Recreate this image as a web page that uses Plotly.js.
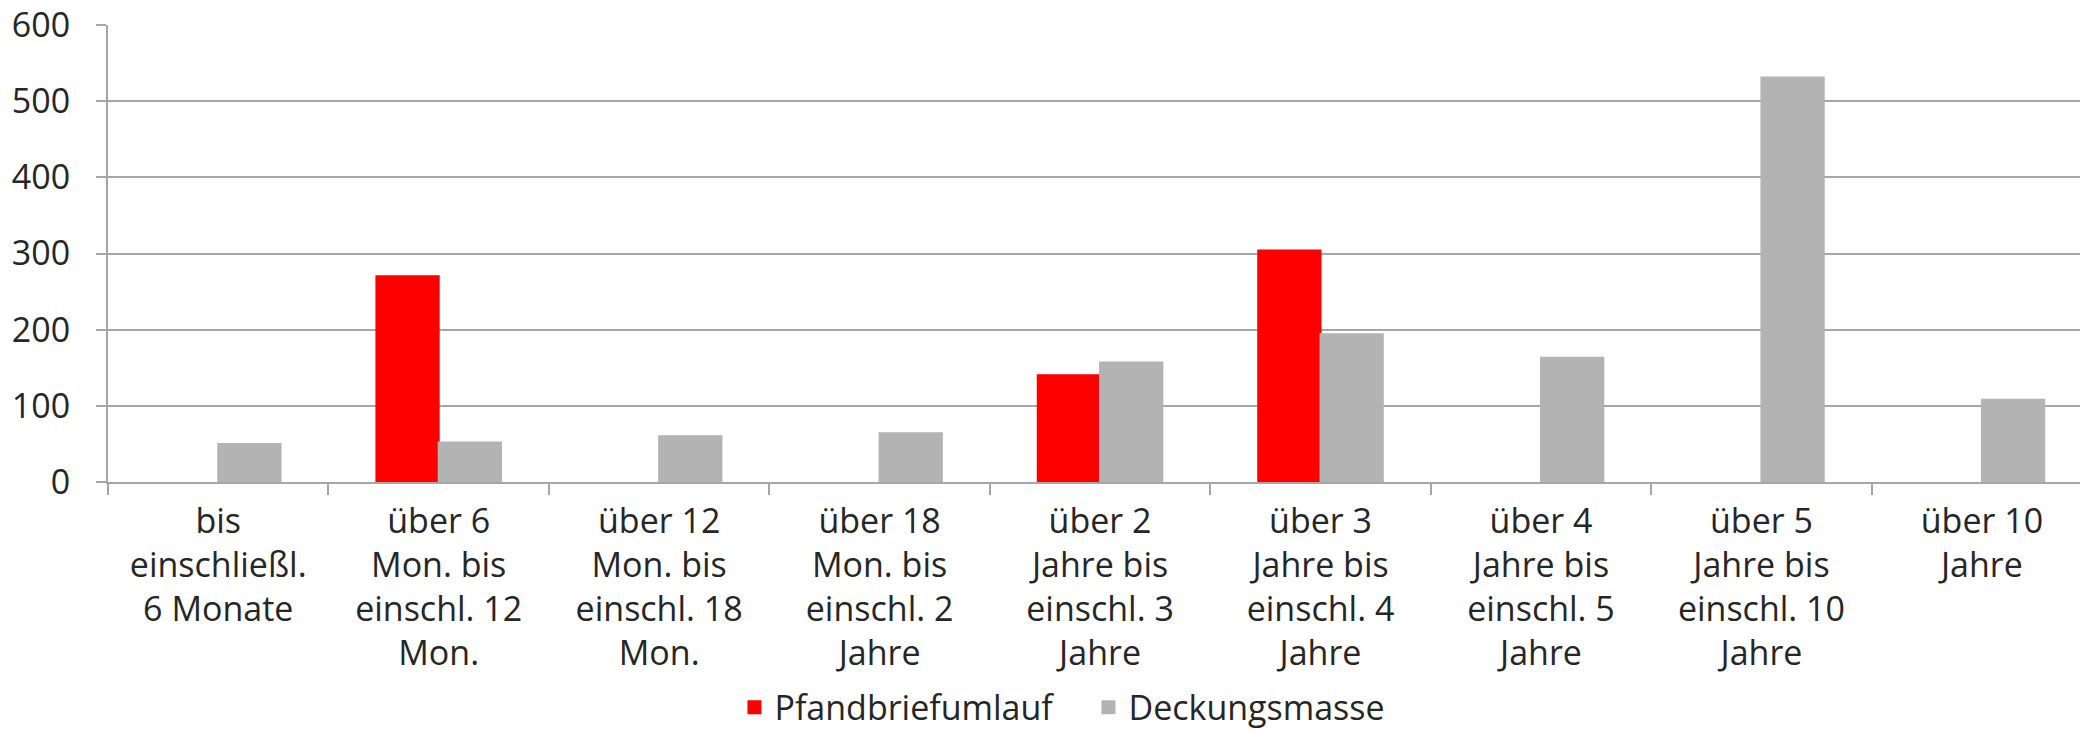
<!DOCTYPE html>
<html>
<head>
<meta charset="utf-8">
<script src="https://cdn.plot.ly/plotly-3.0.1.min.js"></script>
<style>
  html, body { margin: 0; padding: 0; background: #fff; }
  #chart { width: 2080px; height: 732px; }
</style>
</head>
<body>
<div id="chart"></div>
<script>
// Laufzeitbänder (tick labels, with line breaks as in the original)
const categories = [
  "bis<br>einschließl.<br>6 Monate",
  "über 6<br>Mon. bis<br>einschl. 12<br>Mon.",
  "über 12<br>Mon. bis<br>einschl. 18<br>Mon.",
  "über 18<br>Mon. bis<br>einschl. 2<br>Jahre",
  "über 2<br>Jahre bis<br>einschl. 3<br>Jahre",
  "über 3<br>Jahre bis<br>einschl. 4<br>Jahre",
  "über 4<br>Jahre bis<br>einschl. 5<br>Jahre",
  "über 5<br>Jahre bis<br>einschl. 10<br>Jahre",
  "über 10<br>Jahre"
];

// values
const pfandbriefumlauf = [null, 270, null, null, 140, 304, null, null, null];
const deckungsmasse = [50, 52, 60, 64, 157, 194, 163, 531, 108];

const yTicks = [0, 100, 200, 300, 400, 500, 600];

const textColor = "#262626";
const lineColor = "#a6a6a6";

const traces = [
  {
    type: "bar",
    name: "Pfandbriefumlauf",
    x: categories,
    y: pfandbriefumlauf,
    marker: { color: "#ff0000", line: { color: "#ff0000", width: 2 } },
    hoverinfo: "skip"
  },
  {
    type: "bar",
    name: "Deckungsmasse",
    x: categories,
    y: deckungsmasse,
    marker: { color: "#b3b3b3", line: { color: "#b3b3b3", width: 2 } },
    hoverinfo: "skip"
  }
];

const layout = {
  width: 2080,
  height: 732,
  margin: { l: 108, r: 0, t: 25, b: 250, autoexpand: false },
  paper_bgcolor: "#fff",
  plot_bgcolor: "#fff",
  font: { family: "Open Sans, DejaVu Sans, sans-serif", size: 34, color: textColor },
  barmode: "group",
  bargap: 0.435,
  bargroupgap: 0,
  showlegend: true,
  legend: {
    orientation: "h",
    xref: "container",
    yref: "container",
    x: 0.5233,
    xanchor: "center",
    y: 0.073,
    yanchor: "top",
    entrywidth: 309,
    entrywidthmode: "pixels",
    font: { size: 34, color: textColor },
    itemclick: false,
    itemdoubleclick: false
  },
  xaxis: {
    type: "category",
    range: [-0.5, 8.445],
    showline: true,
    linecolor: lineColor,
    linewidth: 2,
    ticks: "outside",
    tickson: "boundaries",
    ticklen: 11,
    tickcolor: lineColor,
    tickwidth: 2,
    showgrid: false,
    tickangle: 0,
    ticklabelstandoff: 8,
    tickfont: { size: 34, color: textColor },
    fixedrange: true
  },
  yaxis: {
    range: [0, 600],
    tickvals: yTicks,
    ticktext: yTicks.map(String),
    showline: true,
    linecolor: lineColor,
    linewidth: 2,
    ticks: "outside",
    ticklen: 10,
    tickcolor: lineColor,
    tickwidth: 2,
    showgrid: true,
    gridcolor: lineColor,
    gridwidth: 2,
    zeroline: false,
    ticklabelstandoff: 19,
    tickfont: { size: 34, color: textColor },
    fixedrange: true
  }
};

Plotly.newPlot("chart", traces, layout, { displayModeBar: false, staticPlot: true });
</script>
</body>
</html>
